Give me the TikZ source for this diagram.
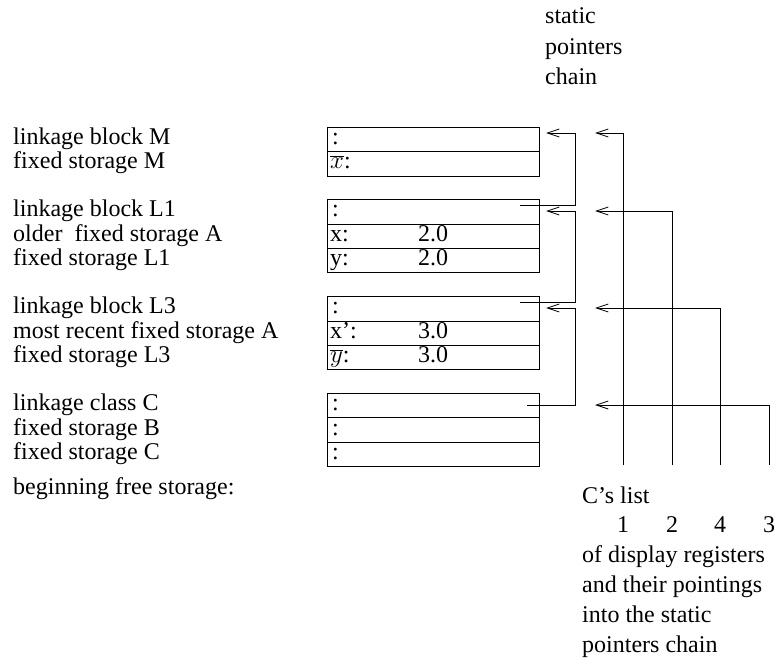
\documentclass[tikz,border=0pt]{standalone}
\usepackage{fontspec}
\setmainfont{Liberation Serif}
\usetikzlibrary{arrows.meta}
\begin{document}
\begin{tikzpicture}[x=1pt,y=-1pt,
  txt/.style={anchor=base west,inner sep=0pt,font=\fontsize{24}{25}\selectfont},
  num/.style={anchor=base,inner sep=0pt,font=\fontsize{24}{25}\selectfont},
  cell/.style={draw,line width=0.8pt,rectangle,minimum width=212pt,minimum height=24.3pt,anchor=north west,inner sep=0pt},
  ptr/.style={line width=0.8pt,-{Straight Barb[length=12pt,width=8pt,line width=0.8pt]}}]
\useasboundingbox (0,0) rectangle (776,658);
% top label
\node[txt] (t1) at (545,24) {static};
\node[txt] (t2) at (545,55) {pointers};
\node[txt] (t3) at (545,85) {chain};
% left labels
\node[txt] (lM1) at (13,144) {linkage block M};
\node[txt] (lM2) at (13,168) {fixed storage M};
\node[txt] (lA1) at (13,216) {linkage block L1};
\node[txt] (lA2) at (13,241) {older\ \ fixed storage A};
\node[txt] (lA3) at (13,265) {fixed storage L1};
\node[txt] (lB1) at (13,313) {linkage block L3};
\node[txt] (lB2) at (13,338) {most recent fixed storage A};
\node[txt] (lB3) at (13,362) {fixed storage L3};
\node[txt] (lC1) at (13,410) {linkage class C};
\node[txt] (lC2) at (13,435) {fixed storage B};
\node[txt] (lC3) at (13,459) {fixed storage C};
\node[txt] (lfree) at (13,494) {beginning free storage:};
% boxes
\node[cell] (M1) at (327,127) {};
\node[cell] (M2) at (327,151.3) {};
\node[cell] (A1) at (327,199.3) {};
\node[cell] (A2) at (327,223.6) {};
\node[cell] (A3) at (327,247.9) {};
\node[cell] (B1) at (327,296.2) {};
\node[cell] (B2) at (327,320.5) {};
\node[cell] (B3) at (327,344.8) {};
\node[cell] (C1) at (327,393.1) {};
\node[cell] (C2) at (327,417.4) {};
\node[cell] (C3) at (327,441.7) {};
% contents
\node[txt] (cM1) at (332,144) {:};
\node[txt] (cM2) at (330,168) {$\overline{x}$:};
\node[txt] (cA1) at (332,216) {:};
\node[txt] (cA2) at (330,241) {x:};
\node[txt] (vA2) at (418,241) {2.0};
\node[txt] (cA3) at (330,265) {y:};
\node[txt] (vA3) at (418,265) {2.0};
\node[txt] (cB1) at (332,313) {:};
\node[txt] (cB2) at (330,338) {x’:};
\node[txt] (vB2) at (418,338) {3.0};
\node[txt] (cB3) at (330,362) {$\overline{y}$:};
\node[txt] (vB3) at (418,362) {3.0};
\node[txt] (cC1) at (332,410) {:};
\node[txt] (cC2) at (332,435) {:};
\node[txt] (cC3) at (332,459) {:};
% static chain coordinates
\coordinate (tipM) at (546,133);
\coordinate (tipA) at (546,211);
\coordinate (tipB) at (546,308);
\coordinate (sA) at (520,205);
\coordinate (sB) at (520,302);
\coordinate (sC) at (527,405);
\draw[ptr] (sA) -- (575,205) |- (tipM);
\draw[ptr] (sB) -- (575,302) |- (tipA);
\draw[ptr] (sC) -- (575,405) |- (tipB);
% display registers
\coordinate (r1) at (623,465);
\coordinate (r2) at (672,465);
\coordinate (r4) at (720,465);
\coordinate (r3) at (769,465);
\coordinate (dM) at (595,133);
\coordinate (dA) at (595,211);
\coordinate (dB) at (595,308);
\coordinate (dC) at (595,405);
\draw[ptr] (r1) |- (dM);
\draw[ptr] (r2) |- (dA);
\draw[ptr] (r4) |- (dB);
\draw[ptr] (r3) |- (dC);
% bottom labels
\node[txt] (clist) at (582,503) {C’s list};
\node[num] (n1) at (623,532) {1};
\node[num] (n2) at (672,532) {2};
\node[num] (n4) at (720,532) {4};
\node[num] (n3) at (769,532) {3};
\node[txt] (b1) at (582,562) {of display registers};
\node[txt] (b2) at (582,592) {and their pointings};
\node[txt] (b3) at (582,622) {into the static};
\node[txt] (b4) at (582,652) {pointers chain};
\end{tikzpicture}
\end{document}
